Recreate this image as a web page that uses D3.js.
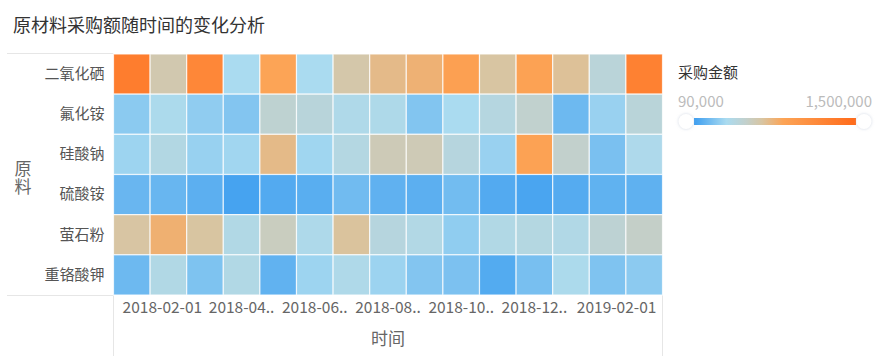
<!DOCTYPE html>
<html>
<head>
<meta charset="utf-8">
<script src="https://cdn.jsdelivr.net/npm/d3@7"></script>
<style>
  html, body { margin: 0; padding: 0; background: #fff; }
  svg { display: block; font-family: "Noto Sans CJK SC", "Noto Sans", sans-serif; }
</style>
</head>
<body>
<svg id="chart" width="885" height="360"></svg>
<script>
// ---------- data ----------
const months = ["2018-01-01","2018-02-01","2018-03-01","2018-04-01","2018-05-01","2018-06-01","2018-07-01","2018-08-01","2018-09-01","2018-10-01","2018-11-01","2018-12-01","2019-01-01","2019-02-01","2019-03-01"];
const materials = ["二氧化硒","氟化铵","硅酸钠","硫酸铵","萤石粉","重铬酸钾"];

const erYangHuaXi   = [1289000, 640000, 1183000, 372000, 866000, 374000, 654000, 743000, 792000, 908000, 682000, 887000, 707000, 482000, 1246000];
const fuHuaAn       = [293000, 389000, 304000, 270000, 516000, 474000, 406000, 403000, 268000, 372000, 448000, 533000, 214000, 327000, 480000];
const guiSuanNa     = [338000, 431000, 325000, 349000, 745000, 347000, 440000, 612000, 615000, 457000, 327000, 884000, 541000, 248000, 397000];
const liuSuanAn     = [203000, 201000, 169000, 113000, 146000, 163000, 225000, 180000, 170000, 227000, 147000, 124000, 152000, 181000, 179000];
const yingShiFen    = [680000, 800000, 684000, 423000, 584000, 398000, 694000, 458000, 425000, 305000, 424000, 441000, 421000, 507000, 555000];
const zhongGeSuanJia= [215000, 424000, 259000, 422000, 182000, 339000, 405000, 337000, 271000, 254000, 148000, 242000, 389000, 260000, 294000];

const seriesByMaterial = [erYangHuaXi, fuHuaAn, guiSuanNa, liuSuanAn, yingShiFen, zhongGeSuanJia];

const tickMonths = ["2018-02-01","2018-04-01","2018-06-01","2018-08-01","2018-10-01","2018-12-01","2019-02-01"];
const tickLabels = ["2018-02-01","2018-04..","2018-06..","2018-08..","2018-10..","2018-12..","2019-02-01"];

const valueRange = [90000, 1500000];
const rangeLabels = ["90,000", "1,500,000"];
const colorOffsets = [0, 0.2, 0.32, 0.42, 0.55, 1];
const colorRange = ["#3d9ef0", "#aadbf0", "#c2d0cc", "#d8c5a2", "#fca456", "#ff6a1a"];

// ---------- build ----------
const cells = [];
materials.forEach((m, i) => {
  months.forEach((mo, j) => cells.push({ material: m, month: mo, value: seriesByMaterial[i][j] }));
});

const svg = d3.select("#chart");

const x = d3.scaleBand().domain(months).range([113.5, 662.5]);
const y = d3.scaleBand().domain(materials).range([54, 295]);

const span = valueRange[1] - valueRange[0];
const color = d3.scaleLinear()
  .domain(colorOffsets.map(o => valueRange[0] + o * span))
  .range(colorRange)
  .interpolate(d3.interpolateRgb)
  .clamp(true);

// title
svg.append("text")
  .attr("x", 13).attr("y", 32)
  .attr("font-size", 18).attr("fill", "#333")
  .text("原材料采购额随时间的变化分析");

// frame lines
const frame = svg.append("g").attr("stroke", "#e6e6e6").attr("stroke-width", 1);
frame.append("line").attr("x1", 7).attr("x2", 113.5).attr("y1", 53.5).attr("y2", 53.5);
frame.append("line").attr("x1", 7).attr("x2", 113.5).attr("y1", 295.5).attr("y2", 295.5);
frame.append("line").attr("x1", 113.5).attr("x2", 113.5).attr("y1", 295).attr("y2", 356);
frame.append("line").attr("x1", 662.5).attr("x2", 662.5).attr("y1", 295).attr("y2", 356);

// cells
svg.append("g")
  .selectAll("rect")
  .data(cells)
  .join("rect")
  .attr("x", d => x(d.month))
  .attr("y", d => y(d.material))
  .attr("width", x.bandwidth())
  .attr("height", y.bandwidth())
  .attr("fill", d => color(d.value))
  .attr("stroke", "#ffffff")
  .attr("stroke-opacity", 0.75)
  .attr("stroke-width", 1.2);

// y axis
const yAxis = svg.append("g")
  .attr("transform", "translate(113.5,0)")
  .call(d3.axisLeft(y).tickSize(0).tickPadding(9));
yAxis.select(".domain").remove();
yAxis.selectAll("text")
  .attr("font-size", 15).attr("fill", "#555")
  .attr("font-family", "Noto Sans CJK SC, sans-serif");

// y axis title (vertical)
svg.append("text")
  .attr("x", 23).attr("y", 160)
  .attr("writing-mode", "vertical-rl")
  .attr("font-size", 17).attr("fill", "#666")
  .attr("letter-spacing", 1)
  .text("原料");

// x axis
const xAxis = svg.append("g")
  .attr("transform", "translate(0,295)")
  .call(d3.axisBottom(x).tickValues(tickMonths)
        .tickFormat((d, i) => tickLabels[i])
        .tickSize(0).tickPadding(7));
xAxis.select(".domain").remove();
xAxis.selectAll("text")
  .attr("font-size", 15.5).attr("fill", "#666")
  .attr("font-family", "Noto Sans CJK SC, sans-serif")
  .attr("dx", (d, i, n) => i === 0 ? -6 : (i === n.length - 1 ? 9 : 0));

// x axis title
svg.append("text")
  .attr("x", (113.5 + 662.5) / 2).attr("y", 345)
  .attr("text-anchor", "middle")
  .attr("font-size", 17).attr("fill", "#666")
  .text("时间");

// legend
const lg = svg.append("g");
lg.append("text")
  .attr("x", 678).attr("y", 78)
  .attr("font-size", 15).attr("fill", "#333")
  .text("采购金额");
lg.append("text")
  .attr("x", 678).attr("y", 107)
  .attr("font-size", 15).attr("fill", "#bbb")
  .text(rangeLabels[0]);
lg.append("text")
  .attr("x", 872).attr("y", 107)
  .attr("text-anchor", "end")
  .attr("font-size", 15).attr("fill", "#bbb")
  .text(rangeLabels[1]);

const defs = svg.append("defs");
const grad = defs.append("linearGradient").attr("id", "lgGrad")
  .attr("x1", "0%").attr("x2", "100%").attr("y1", "0%").attr("y2", "0%");
grad.selectAll("stop")
  .data(colorOffsets)
  .join("stop")
  .attr("offset", d => (d * 100) + "%")
  .attr("stop-color", (d, i) => colorRange[i]);

const filt = defs.append("filter").attr("id", "hShadow")
  .attr("x", "-50%").attr("y", "-50%").attr("width", "200%").attr("height", "200%");
filt.append("feDropShadow").attr("dx", 0).attr("dy", 0).attr("stdDeviation", 1.5)
  .attr("flood-color", "#b0bcd0").attr("flood-opacity", 0.6);

const lgScale = d3.scaleLinear().domain(valueRange).range([694, 856]);
lg.append("rect")
  .attr("x", lgScale(valueRange[0])).attr("y", 118)
  .attr("width", lgScale(valueRange[1]) - lgScale(valueRange[0])).attr("height", 7)
  .attr("fill", "url(#lgGrad)");
lg.selectAll("circle.handle")
  .data(valueRange)
  .join("circle")
  .attr("class", "handle")
  .attr("cx", (d, i) => i === 0 ? lgScale(d) - 8 : lgScale(d) + 8)
  .attr("cy", 121.5)
  .attr("r", 7.5)
  .attr("fill", "#fff")
  .attr("filter", "url(#hShadow)");
</script>
</body>
</html>
